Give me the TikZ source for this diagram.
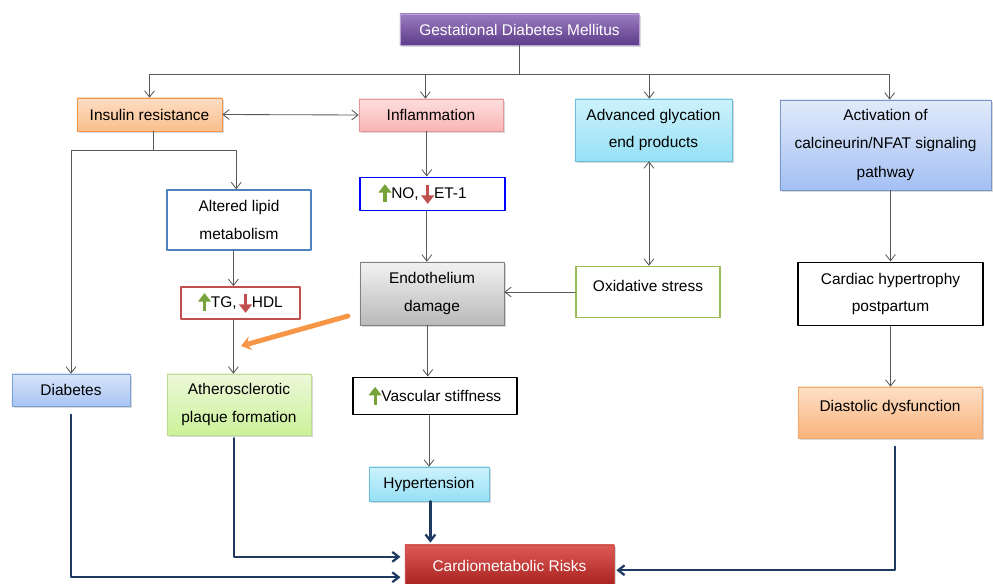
\documentclass[tikz,border=0pt]{standalone}
\usepackage{fontspec}
\setmainfont{Liberation Sans}
\usetikzlibrary{arrows.meta,shadows}
\definecolor{linkgray}{HTML}{595959}
\definecolor{riskblue}{HTML}{1F3A60}
\definecolor{upgreen}{HTML}{77A33A}
\definecolor{downred}{HTML}{C0504D}
\definecolor{trendorange}{HTML}{F79646}
\definecolor{gdmline}{HTML}{B8A3D6}
\definecolor{gdmtop}{HTML}{9A7CC0}
\definecolor{gdmbot}{HTML}{5F3D8A}
\definecolor{instop}{HTML}{FDDEC4}
\definecolor{insbot}{HTML}{FABE8C}
\definecolor{inflline}{HTML}{E69696}
\definecolor{infltop}{HTML}{FDDEDE}
\definecolor{inflbot}{HTML}{F9B4B4}
\definecolor{cyanline}{HTML}{6EBED7}
\definecolor{cyantop}{HTML}{CDF2FC}
\definecolor{cyanbot}{HTML}{96E0F6}
\definecolor{actline}{HTML}{7896C8}
\definecolor{acttop}{HTML}{E1EAFA}
\definecolor{actbot}{HTML}{A4C0F3}
\definecolor{lipline}{HTML}{4F81BD}
\definecolor{endoline}{HTML}{808080}
\definecolor{endotop}{HTML}{F2F2F2}
\definecolor{endobot}{HTML}{B9B9B9}
\definecolor{oxidline}{HTML}{9BBB59}
\definecolor{dialine}{HTML}{F7AA6E}
\definecolor{diatop}{HTML}{FDE0C6}
\definecolor{diabot}{HTML}{FAB27A}
\definecolor{diabline}{HTML}{7DA0D6}
\definecolor{diabtop}{HTML}{D8E4FA}
\definecolor{diabbot}{HTML}{A8C4F3}
\definecolor{athline}{HTML}{BEDC91}
\definecolor{athtop}{HTML}{ECF8DA}
\definecolor{athbot}{HTML}{CCF298}
\definecolor{cmrline}{HTML}{C8504B}
\definecolor{cmrtop}{HTML}{DE5A55}
\definecolor{cmrbot}{HTML}{A5201E}
\newcommand{\upar}{\tikz[baseline=0pt]\draw[upgreen,line width=2.2pt,-{Triangle[width=9pt,length=6pt]}] (0,-2.5pt) -- (0,10.5pt);}
\newcommand{\downar}{\tikz[baseline=0pt]\draw[downred,line width=2.2pt,-{Triangle[width=9pt,length=6pt]}] (0,10pt) -- (0,-3.5pt);}
\begin{document}
\begin{tikzpicture}[x=0.025cm,y=-0.025cm,font=\fontsize{11}{19.5}\selectfont,line cap=round,line join=round,>={Straight Barb[length=4.5pt,width=7pt]},
box/.style={draw,align=center,inner sep=0pt},
shade/.style={drop shadow={opacity=0.3,shadow xshift=1.2pt,shadow yshift=-1.2pt}},
link/.style={->,draw=linkgray,line width=0.6pt},
risk/.style={->,draw=riskblue,line width=1.6pt}]
\useasboundingbox (0,0) rectangle (993,584);
\node[box,shade,draw=gdmline,top color=gdmtop,bottom color=gdmbot,text=white,minimum width=5.975cm,minimum height=0.775cm] (gdm) at (519.5,29.5) {Gestational Diabetes Mellitus};
\node[box,shade,draw=trendorange,top color=instop,bottom color=insbot,minimum width=3.625cm,minimum height=0.825cm] (ins) at (149.5,114.5) {Insulin resistance};
\node[box,shade,draw=inflline,top color=infltop,bottom color=inflbot,minimum width=3.6cm,minimum height=0.8cm] (infl) at (431,115) {Inflammation};
\node[box,shade,draw=cyanline,top color=cyantop,bottom color=cyanbot,minimum width=3.925cm,minimum height=1.55cm] (agp) at (653.5,130) {Advanced glycation\\end products};
\node[box,shade,draw=actline,top color=acttop,bottom color=actbot,minimum width=5.275cm,minimum height=2.25cm,font=\fontsize{11}{20.5}\selectfont] (act) at (885.5,145) {Activation of\\calcineurin/NFAT signaling\\pathway};
\node[box,draw=lipline,line width=1pt,fill=white,minimum width=3.6cm,minimum height=1.5cm] (lip) at (239,220) {Altered lipid\\metabolism};
\node[box,draw=blue,line width=1.4pt,fill=white,minimum width=3.625cm,minimum height=0.825cm] (no) at (432.5,194) {\upar NO,\,\downar ET-1\hspace{14pt}};
\node[box,draw=downred,line width=1.2pt,fill=white,minimum width=2.975cm,minimum height=0.8cm] (tg) at (240.5,303) {\upar TG,\,\downar HDL};
\node[box,shade,draw=endoline,top color=endotop,bottom color=endobot,minimum width=3.6cm,minimum height=1.575cm] (endo) at (432,293.5) {Endothelium\\damage};
\node[box,draw=oxidline,line width=1pt,fill=white,minimum width=3.6cm,minimum height=1.275cm,text depth=9pt] (oxid) at (648,292) {Oxidative stress};
\node[box,draw=black,line width=1.4pt,fill=white,minimum width=4.625cm,minimum height=1.575cm] (card) at (890.5,294) {Cardiac hypertrophy\\postpartum};
\node[box,shade,draw=dialine,top color=diatop,bottom color=diabot,minimum width=4.6cm,minimum height=1.275cm,text depth=10pt] (dia) at (890,412.5) {Diastolic dysfunction};
\node[box,shade,draw=diabline,top color=diabtop,bottom color=diabbot,minimum width=2.95cm,minimum height=0.8cm] (diab) at (71,390) {Diabetes};
\node[box,shade,draw=athline,top color=athtop,bottom color=athbot,minimum width=3.6cm,minimum height=1.525cm] (ath) at (239,404.5) {Atherosclerotic\\plaque formation};
\node[box,draw=black,line width=1.4pt,fill=white,minimum width=4.1cm,minimum height=0.925cm] (vasc) at (435,396) {\upar Vascular stiffness};
\node[box,shade,draw=cyanline,top color=cyantop,bottom color=cyanbot,minimum width=3cm,minimum height=0.85cm] (hyp) at (429,484) {Hypertension};
\node[box,shade,draw=cmrline,top color=cmrtop,bottom color=cmrbot,text=white,minimum width=5.225cm,minimum height=1.05cm] (cmr) at (509.5,566) {Cardiometabolic Risks};
\draw[link,-] (gdm.south) -- ++(0,29) coordinate (bus);
\draw[link] (bus) -| (ins.north);
\draw[link] (bus) -| ([xshift=-4pt]infl.north);
\draw[link] (bus) -| ([xshift=-3pt]agp.north);
\draw[link] (bus) -| ([xshift=3pt]act.north);
\draw[link,<->] (ins.east) -- (infl.west);
\draw[link,-] ([xshift=2.5pt]ins.south) -- ++(0,19) coordinate (split);
\draw[link] (split) -| (diab.north);
\draw[link] (split) -| ([xshift=-2pt]lip.north);
\draw[link] ([xshift=-4pt]lip.south) -- ([xshift=-4pt]lip.south |- tg.north);
\draw[link] ([xshift=-4pt]lip.south |- tg.south) -- ([xshift=-4pt]ath.north);
\draw[link] ([xshift=-3pt]infl.south) -- ([xshift=-3pt]infl.south |- no.north);
\draw[link] ([xshift=-4pt]no.south) -- ([xshift=-4pt]no.south |- endo.north);
\draw[link] ([xshift=-3pt]endo.south) -- ([xshift=-3pt]endo.south |- vasc.north);
\draw[link] (hyp.north |- vasc.south) -- (hyp.north);
\draw[link,<->] ([xshift=0.7pt]oxid.north) -- ([xshift=0.7pt]oxid.north |- agp.south);
\draw[link] (oxid.west) -- (oxid.west -| endo.east);
\draw[link] (card.north |- act.south) -- (card.north);
\draw[link] (card.south) -- (card.south |- dia.north);
\coordinate (ostart) at (348,316);
\coordinate (oend) at (241,346);
\draw[trendorange,line width=3.5pt,-{Stealth[length=7pt,width=10pt]}] (ostart) -- (oend);
\draw[risk,shorten <=6pt,shorten >=3pt] (diab.south) |- ([yshift=-8pt]cmr.west);
\draw[risk,shorten <=2pt,shorten >=3pt] ([xshift=-3.5pt]ath.south) |- ([yshift=6.5pt]cmr.west);
\draw[risk,shorten >=1.5pt] ([xshift=1pt]hyp.south) -- ([xshift=1pt]hyp.south |- cmr.north);
\draw[risk,shorten <=6pt,shorten >=1.5pt] ([xshift=3.5pt]dia.south) |- ([yshift=-3pt]cmr.east);
\end{tikzpicture}
\end{document}
